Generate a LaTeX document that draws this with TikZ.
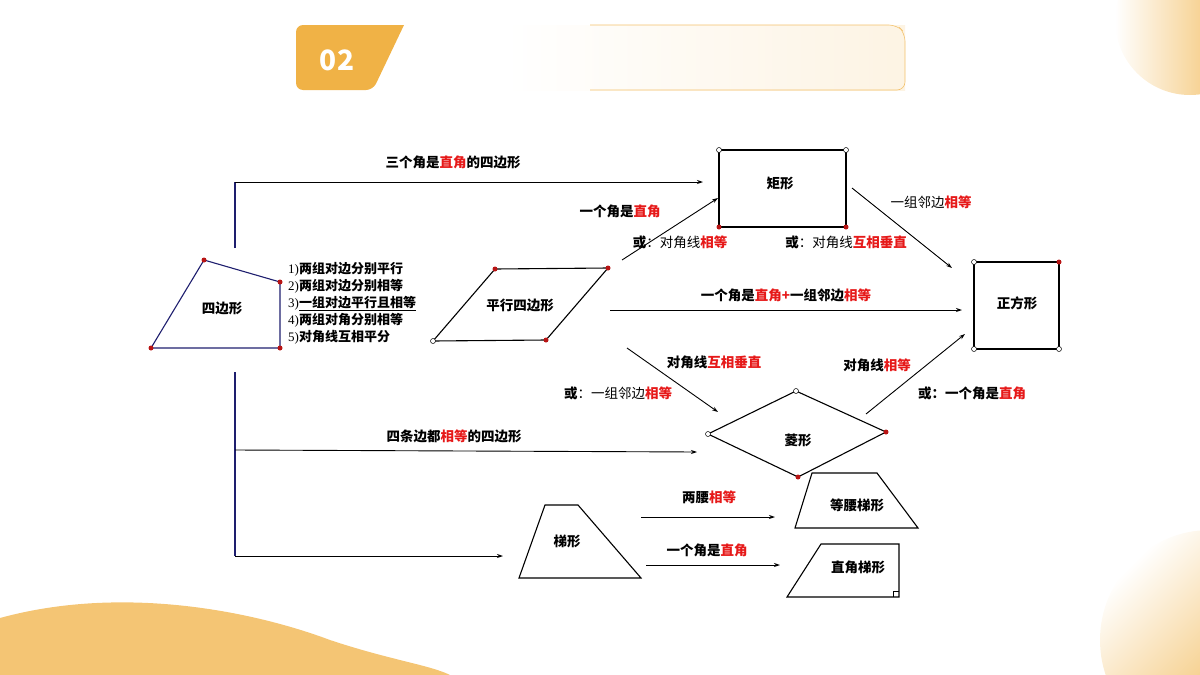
\documentclass[tikz,border=0pt]{standalone}
\usepackage{fontspec}
\setmainfont{Noto Sans CJK SC}
\newfontfamily\numfont{Liberation Serif}
\usetikzlibrary{positioning,arrows.meta}
\definecolor{hired}{RGB}{230,25,25}
\definecolor{navyline}{RGB}{30,30,110}
\definecolor{tabor}{RGB}{240,178,70}
\newcommand{\hl}[1]{\textcolor{hired}{#1}}
\tikzset{
  lbl/.style={font=\bfseries\fontsize{13.5}{15}\selectfont, inner sep=1pt},
  lbn/.style={font=\fontsize{13.5}{15}\selectfont, inner sep=1pt},
  shp/.style={draw=black, line width=1.1pt},
  arr/.style={draw=black, line width=0.9pt, -{Stealth[length=6pt,width=4pt]}},
  rdot/.style={circle, fill=hired!80!black, inner sep=0pt, minimum size=5pt},
  wdot/.style={circle, draw=black, fill=white, inner sep=0pt, minimum size=5pt, line width=0.5pt}
}
\begin{document}
\begin{tikzpicture}[x=1pt,y=-1pt]
\useasboundingbox (0,0) rectangle (1200,675);

% decoration
\begin{scope}
\clip (1060,0) rectangle (1200,100);
\shade[left color=white, right color=tabor] (1190,20) circle (75);
\end{scope}
\begin{scope}
\clip (1090,520) rectangle (1200,675);
\shade[left color=white, right color=tabor, shading angle=45] (1210,640) circle (110);
\end{scope}
\fill[tabor!75] (0,618) .. controls (120,585) and (250,610) .. (330,640) .. controls (390,660) and (430,665) .. (450,675) -- (0,675) -- cycle;
\shade[left color=white, right color=tabor!15] (505,25) rectangle (905,90);
\draw[tabor!80, rounded corners=8pt, line width=0.6pt] (590,25) -- (897,25) -- (905,33) -- (905,90) -- (590,90);
\fill[tabor, rounded corners=7pt] (404,25) -- (296,25) -- (296,90) -- (373,90) [sharp corners] -- (404,25) -- cycle;
\node[font=\bfseries\fontsize{28}{30}\selectfont, text=white] (num) at (337,60) {02};

% quadrilateral
\draw[navyline, line width=1.1pt] (204,260) -- (280,282) -- (280,348) -- (151,348) -- cycle;
\foreach \p in {(204,260),(280,282),(280,348),(151,348)} \node[rdot] at \p {};
\node[lbl] (quad) at (222,308) {四边形};

% branch lines
\coordinate (up) at (235,248);
\coordinate (upc) at (235,182);
\coordinate (rectin) at (703,182);
\draw[navyline, line width=1.1pt] (up) -- (upc);
\draw[arr] (upc) -- (rectin);
\node[lbl] (three) at (453,162) {三个角是\hl{直角}的四边形};
\coordinate (dn) at (235,372);
\coordinate (dnend) at (235,556);
\draw[navyline, line width=1.1pt] (dn) -- (dnend);
\coordinate (rhb) at (235,450);
\coordinate (rhin) at (697,452);
\draw[arr] (rhb) -- (rhin);
\node[lbl] (four) at (454,436) {四条边都\hl{相等}的四边形};
\coordinate (trin) at (503,556);
\draw[arr] (dnend) -- (trin);

% conditions list
\node[align=left, anchor=west, font=\bfseries\fontsize{13}{17}\selectfont, inner sep=0pt] (conds) at (288,303) {%
{\numfont\mdseries 1)}两组对边分别平行\\
{\numfont\mdseries 2)}两组对边分别相等\\
{\numfont\mdseries 3)}\underline{一组对边平行且相等}\\
{\numfont\mdseries 4)}两组对角分别相等\\
{\numfont\mdseries 5)}对角线互相平分};

% parallelogram
\draw[shp] (495,269) -- (608,268) -- (546,340) -- (433,341) -- cycle;
\foreach \p in {(495,269),(608,268),(546,340)} \node[rdot] at \p {};
\node[wdot] at (433,341) {};
\node[lbl] (para) at (520,305) {平行四边形};

% rectangle
\draw[shp] (719,150) rectangle (846,227);
\node[wdot] at (719,150) {}; \node[wdot] at (846,150) {};
\node[rdot] at (719,227) {}; \node[rdot] at (846,227) {};
\node[lbl] (rect) at (780,183) {矩形};

% square
\draw[shp] (974,262) rectangle (1059,349);
\node[wdot] at (974,262) {}; \node[rdot] at (1059,262) {};
\node[wdot] at (974,349) {}; \node[wdot] at (1059,349) {};
\node[lbl] (sq) at (1017,303) {正方形};

% rhombus
\draw[shp] (796,391) -- (886,432) -- (798,477) -- (708,434) -- cycle;
\node[wdot] at (796,391) {}; \node[rdot] at (886,432) {};
\node[rdot] at (798,477) {}; \node[wdot] at (708,434) {};
\node[lbl] (rh) at (798,440) {菱形};

% trapezoids
\draw[shp] (545,505) -- (578,505) -- (641,578) -- (519,578) -- cycle;
\node[lbl] (trap) at (567,541) {梯形};
\draw[shp] (812,473) -- (877,473) -- (918,528) -- (795,528) -- cycle;
\node[lbl] (iso) at (857,505) {等腰梯形};
\draw[shp] (821,544) -- (899,544) -- (899,597) -- (787,597) -- cycle;
\draw[line width=0.7pt] (893,597) -- (893,591) -- (899,591);
\node[lbl] (rt) at (858,567) {直角梯形};

% connectors
\coordinate (pa1) at (622,260); \coordinate (re1) at (718,198);
\draw[arr] (pa1) -- (re1);
\node[lbl] (c1) at (620,211) {一个角是\hl{直角}};
\node[lbn] (c2) at (680,242) {\textbf{或}：对角线\textbf{\hl{相等}}};

\coordinate (pa2) at (610,310); \coordinate (sq2) at (962,310);
\draw[arr] (pa2) -- (sq2);
\node[lbl] (c3) at (786,295) {一个角是\hl{直角}\hl{+}一组邻边\hl{相等}};

\coordinate (pa3) at (627,348); \coordinate (rh3) at (718,412);
\draw[arr] (pa3) -- (rh3);
\node[lbl] (c4) at (714,362) {对角线\hl{互相垂直}};
\node[lbn] (c5) at (618,393) {\textbf{或}：一组邻边\textbf{\hl{相等}}};

\coordinate (re4) at (852,188); \coordinate (sq4) at (952,268);
\draw[arr] (re4) -- (sq4);
\node[lbn] (c6) at (931,202) {一组邻边\textbf{\hl{相等}}};
\node[lbn] (c7) at (846,242) {\textbf{或}：对角线\textbf{\hl{互相垂直}}};

\coordinate (rh5) at (866,414); \coordinate (sq5) at (965,334);
\draw[arr] (rh5) -- (sq5);
\node[lbl] (c8) at (877,365) {对角线\hl{相等}};
\node[lbl] (c9) at (972,393) {或：一个角是\hl{直角}};

\coordinate (tr1) at (641,517); \coordinate (is1) at (775,517);
\draw[arr] (tr1) -- (is1);
\node[lbl] (c10) at (709,497) {两腰\hl{相等}};
\coordinate (tr2) at (646,565); \coordinate (rt2) at (780,565);
\draw[arr] (tr2) -- (rt2);
\node[lbl] (c11) at (707,550) {一个角是\hl{直角}};
\end{tikzpicture}
\end{document}
